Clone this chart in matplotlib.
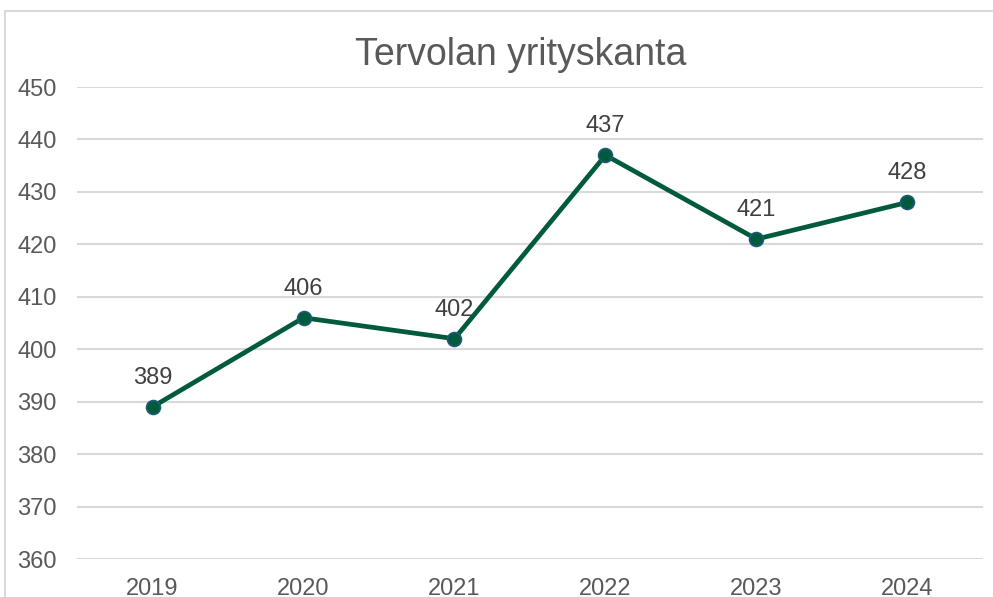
import matplotlib
matplotlib.use("Agg")
import matplotlib.pyplot as plt
from matplotlib.patches import Rectangle

plt.rcParams['font.family'] = ['Liberation Sans', 'DejaVu Sans']

years = ['2019', '2020', '2021', '2022', '2023', '2024']
companies = [389, 406, 402, 437, 421, 428]

fig = plt.figure(figsize=(9.93, 5.97), dpi=100)
ax = fig.add_axes([77/993, 1 - 559/597, 906/993, (559 - 87)/597])

# chart area border (cropped at right and bottom)
fig.patches.append(Rectangle((5/993, -0.1), 1.2, 1.1 - 11/597, transform=fig.transFigure,
                             fill=False, edgecolor='#d9d9d9', linewidth=1.5))

x = list(range(len(years)))
ax.plot(x, companies, color='#005a3c', linewidth=3.4, marker='o', markersize=10,
        markerfacecolor='#005a3c', markeredgecolor='#1f5a7a', markeredgewidth=1.2,
        solid_capstyle='round', zorder=3)
for xi, v in zip(x, companies):
    ax.annotate(str(v), (xi, v), xytext=(0, 13), textcoords='offset points',
                ha='center', va='bottom', fontsize=17, color='#404040')

ax.set_xlim(-0.5, 5.5)
ax.set_ylim(360, 450)
ax.set_yticks(range(360, 451, 10))
ax.set_xticks(x)
ax.set_xticklabels(years)
ax.grid(axis='y', color='#d9d9d9', linewidth=1.5)
ax.set_axisbelow(True)
for s in ax.spines.values():
    s.set_visible(False)
ax.tick_params(length=0, labelsize=17, colors='#595959', pad=14)
ax.tick_params(axis='y', pad=43)
for lab in ax.get_yticklabels():
    lab.set_horizontalalignment('left')

fig.text(521/993, 1 - 55/597, 'Tervolan yrityskanta', ha='center', va='center',
         fontsize=27, color='#595959')

fig.savefig('out.png', dpi=100)
